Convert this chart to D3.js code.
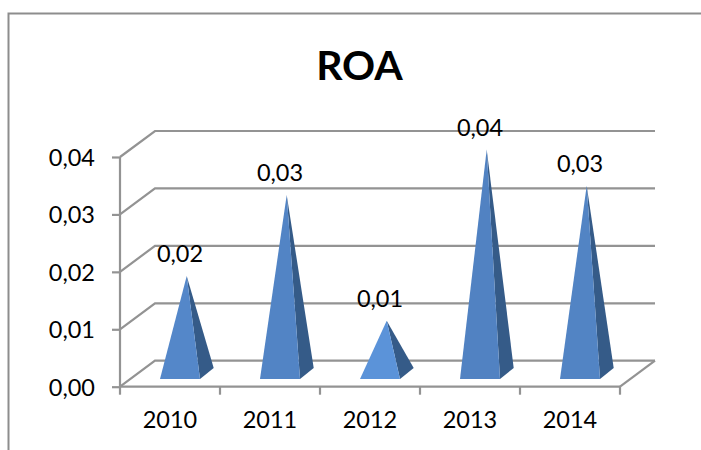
<!DOCTYPE html>
<html>
<head>
<meta charset="utf-8">
<script src="https://cdn.jsdelivr.net/npm/d3@7/dist/d3.min.js"></script>
<style>
html,body{margin:0;padding:0;background:#fff}
svg{display:block}
text{font-family:Lato,"Open Sans",sans-serif;fill:#000}
</style>
</head>
<body>
<svg id="chart" width="701" height="450"></svg>
<script>
const categories = ["2010","2011","2012","2013","2014"];
const roaValues = [0.017,0.0311,0.0092,0.039,0.0327];
const yTicks = [0,0.01,0.02,0.03,0.04];
const chartTitle = "ROA";

const W = 701, H = 450;
const front = {left:120, right:620, bottom:386.7, top:157};
const depth = {dx:35, dy:-26};
const comma = v => v.toFixed(2).replace(".", ",");
const gridColor = "#939393";

const svg = d3.select("#chart");
const x = d3.scaleBand().domain(categories).range([front.left, front.right]);
const y = d3.scaleLinear().domain([0,0.04]).range([front.bottom, front.top]);
const h = v => y(0) - y(v);

// outer frame, open on the right and bottom
svg.append("path")
  .attr("d", `M8.5,${H}V13.5H${W}`)
  .attr("fill","none").attr("stroke","#8d8d8d").attr("stroke-width",2);

svg.append("text").attr("x",359.5).attr("y",79.5)
  .attr("text-anchor","middle").attr("font-size",41).attr("font-weight",700)
  .text(chartTitle);

// side wall and back wall gridlines
const grid = svg.append("g").attr("fill","none").attr("stroke",gridColor).attr("stroke-width",2.2);
grid.selectAll("path").data(yTicks).join("path")
  .attr("d", t => `M${front.left},${y(t)}L${front.left+depth.dx},${y(t)+depth.dy}H${front.right+depth.dx}`);
// floor edge on the right
grid.append("line")
  .attr("x1",front.right).attr("y1",y(0))
  .attr("x2",front.right+depth.dx).attr("y2",y(0)+depth.dy);

// pyramids: a lit front face and a shaded right face
const baseBack = {dx:13.7, dy:-11}, baseFrontY = y(0)-7.7;
const faceColor = d3.scaleLinear().domain([0.009,0.017,0.04]).range(["#5b93d9","#5487c9","#5182c2"]);
const bars = svg.append("g").selectAll("g").data(roaValues).join("g");
const cx = (d,i) => x(categories[i]) + x.bandwidth()/2;
const apex = (d,i) => [cx(d,i)+16.7, baseFrontY + baseBack.dy/2 - h(d)];
bars.append("path")
  .attr("fill","#355b88")
  .attr("d",(d,i)=>{
    const [ax,ay]=apex(d,i), fr=cx(d,i)+30;
    return `M${fr},${baseFrontY}L${fr+baseBack.dx},${baseFrontY+baseBack.dy}L${ax},${ay}Z`;
  });
bars.append("path")
  .attr("fill",d=>faceColor(d))
  .attr("d",(d,i)=>{
    const [ax,ay]=apex(d,i), fl=cx(d,i)-10, fr=cx(d,i)+30;
    return `M${fl},${baseFrontY}H${fr}L${ax},${ay}Z`;
  });

// value labels above each apex
bars.append("text")
  .attr("x",(d,i)=>cx(d,i)+10)
  .attr("y",(d,i)=>apex(d,i)[1]-14)
  .attr("text-anchor","middle").attr("font-size",23.5)
  .text(d=>comma(d));

// axes
const yAxis = d3.axisLeft(y).tickValues(yTicks).tickFormat(comma).tickSize(8).tickPadding(17);
const gy = svg.append("g").attr("transform",`translate(${front.left},1)`).call(yAxis);
const xAxis = d3.axisBottom(x).tickSize(0).tickPadding(25);
const gx = svg.append("g").attr("transform",`translate(0,${front.bottom})`).call(xAxis);
gx.append("g").selectAll("line").data(d3.range(categories.length+1)).join("line")
  .attr("x1",i=>front.left+i*x.bandwidth()).attr("x2",i=>front.left+i*x.bandwidth())
  .attr("y1",0).attr("y2",8);
gy.selectAll("line").attr("transform","translate(0,-1)");
[gy,gx].forEach(g=>{
  g.selectAll("path.domain,line").attr("stroke",gridColor).attr("stroke-width",2.2);
  g.selectAll("text").attr("font-size",23.5).attr("font-family",null).attr("fill","#000");
});
gy.select("path.domain").attr("d",`M0,${y(0)-1}V${y(0.04)-1}`);
gx.select("path.domain").attr("d",`M${front.left},0H${front.right}`);
</script>
</body>
</html>
